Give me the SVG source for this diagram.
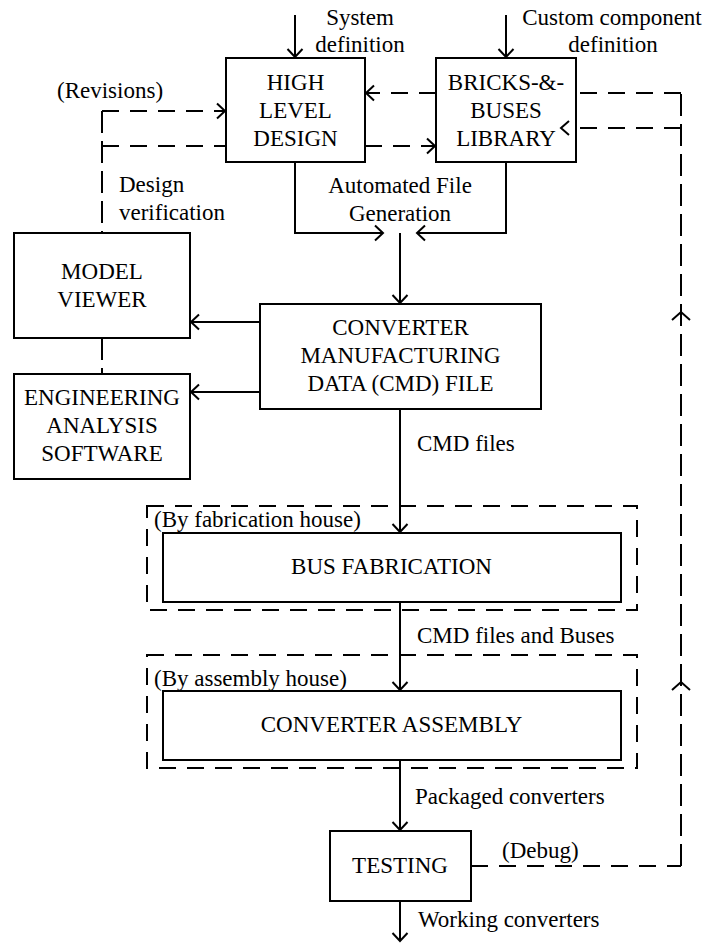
<svg xmlns="http://www.w3.org/2000/svg" width="709" height="945" viewBox="0 0 709 945">
  <style>
    text { font-family: "Liberation Serif", "Times New Roman", serif; font-size: 23px; fill: #000; }
    .c { text-anchor: middle; }
    .box { fill: none; stroke: #000; stroke-width: 2; }
    .ln { fill: none; stroke: #000; stroke-width: 2; }
    .dh { fill: none; stroke: #000; stroke-width: 2; stroke-dasharray: 17 11; }
    .dv { fill: none; stroke: #000; stroke-width: 2; stroke-dasharray: 22 8; }
    .head { fill: none; stroke: #000; stroke-width: 2; stroke-dasharray: none; }
  </style>
  <defs>
    <marker id="arrow" markerUnits="userSpaceOnUse" markerWidth="20" markerHeight="20" viewBox="-10 -10 20 20" refX="0" refY="0" orient="auto">
      <path class="head" d="M-8,-7.5 L0,0 L-8,7.5"/>
    </marker>
  </defs>
  <rect width="709" height="945" fill="#fff"/>

  <!-- connectors -->
  <g id="connectors">
    <!-- external inputs -->
    <path class="ln" d="M295,15 V57" marker-end="url(#arrow)"/>
    <path class="ln" d="M506,15 V57" marker-end="url(#arrow)"/>
    <!-- revisions loop -->
    <path class="dv" d="M102,111 V233"/>
    <path class="dh" d="M102,111 H225" marker-end="url(#arrow)"/>
    <path class="dh" d="M102,146 H226"/>
    <path class="dv" d="M102,338 V374"/>
    <!-- design <-> library -->
    <path class="dh" d="M436,93 H366" marker-end="url(#arrow)"/>
    <path class="dh" d="M365,146 H435" marker-end="url(#arrow)"/>
    <!-- automated file generation bracket -->
    <path class="ln" d="M295,162 V233 H383"/>
    <path class="ln" d="M506,162 V233 H417"/>
    <path class="head" d="M375,225.5 L383,233 L375,240.5"/>
    <path class="head" d="M425,225.5 L417,233 L425,240.5"/>
    <path class="ln" d="M400,233 V303" marker-end="url(#arrow)"/>
    <!-- CMD outputs -->
    <path class="ln" d="M260,322 H191" marker-end="url(#arrow)"/>
    <path class="ln" d="M260,392 H191" marker-end="url(#arrow)"/>
    <path class="ln" d="M400,409 V532" marker-end="url(#arrow)"/>
    <path class="ln" d="M400,602 V690" marker-end="url(#arrow)"/>
    <path class="ln" d="M400,760 V830" marker-end="url(#arrow)"/>
    <path class="ln" d="M400,901 V941" marker-end="url(#arrow)"/>
    <!-- debug loop -->
    <path class="dh" d="M471,866 H681"/>
    <path class="dv" d="M681,866 V93"/>
    <path class="dh" d="M681,93 H576"/>
    <path class="dh" d="M681,128 H576"/>
    <path class="head" d="M569,121 L561,128 L569,135"/>
    <path class="head" d="M672,320 L681,312 L690,320"/>
    <path class="head" d="M672,690 L681,682 L690,690"/>
  </g>

  <!-- input labels -->
  <g id="labels">
    <text class="c" x="360" y="25">System</text>
    <text class="c" x="360" y="52">definition</text>
    <text class="c" x="612" y="25">Custom component</text>
    <text class="c" x="613" y="52">definition</text>
    <text x="57" y="98">(Revisions)</text>
    <text x="119" y="192">Design</text>
    <text x="119" y="220">verification</text>
    <text class="c" x="400" y="193">Automated File</text>
    <text class="c" x="400" y="221">Generation</text>
    <text x="417" y="451">CMD files</text>
    <text x="417" y="643">CMD files and Buses</text>
    <text x="415" y="804">Packaged converters</text>
    <text x="502" y="858">(Debug)</text>
    <text x="418" y="927">Working converters</text>
  </g>

  <g id="high-level-design">
    <rect class="box" x="226" y="58" width="139" height="104"/>
    <text class="c" x="295.5" y="90">HIGH</text>
    <text class="c" x="295.5" y="118">LEVEL</text>
    <text class="c" x="295.5" y="146">DESIGN</text>
  </g>

  <g id="bricks-buses-library">
    <rect class="box" x="436" y="58" width="140" height="104"/>
    <text class="c" x="506" y="90">BRICKS-&amp;-</text>
    <text class="c" x="506" y="118">BUSES</text>
    <text class="c" x="506" y="146">LIBRARY</text>
  </g>

  <g id="model-viewer">
    <rect class="box" x="14" y="233" width="176" height="105"/>
    <text class="c" x="102" y="279">MODEL</text>
    <text class="c" x="102" y="307">VIEWER</text>
  </g>

  <g id="engineering-analysis">
    <rect class="box" x="14" y="374" width="176" height="105"/>
    <text class="c" x="102" y="405">ENGINEERING</text>
    <text class="c" x="102" y="433">ANALYSIS</text>
    <text class="c" x="102" y="461">SOFTWARE</text>
  </g>

  <g id="cmd-file">
    <rect class="box" x="260" y="304" width="281" height="105"/>
    <text class="c" x="400.5" y="335">CONVERTER</text>
    <text class="c" x="400.5" y="363">MANUFACTURING</text>
    <text class="c" x="400.5" y="391">DATA (CMD) FILE</text>
  </g>

  <g id="fabrication-house">
    <rect class="dh" x="147" y="506" width="490" height="104"/>
    <text x="154" y="527">(By fabrication house)</text>
  </g>

  <g id="bus-fabrication">
    <rect class="box" x="163" y="533" width="458" height="69"/>
    <text class="c" x="391.5" y="574">BUS FABRICATION</text>
  </g>

  <g id="assembly-house">
    <rect class="dh" x="147" y="655" width="490" height="113"/>
    <text x="154" y="686">(By assembly house)</text>
  </g>

  <g id="converter-assembly">
    <rect class="box" x="163" y="691" width="458" height="69"/>
    <text class="c" x="391.5" y="732">CONVERTER ASSEMBLY</text>
  </g>

  <g id="testing">
    <rect class="box" x="330" y="831" width="141" height="70"/>
    <text class="c" x="400" y="873">TESTING</text>
  </g>
</svg>
